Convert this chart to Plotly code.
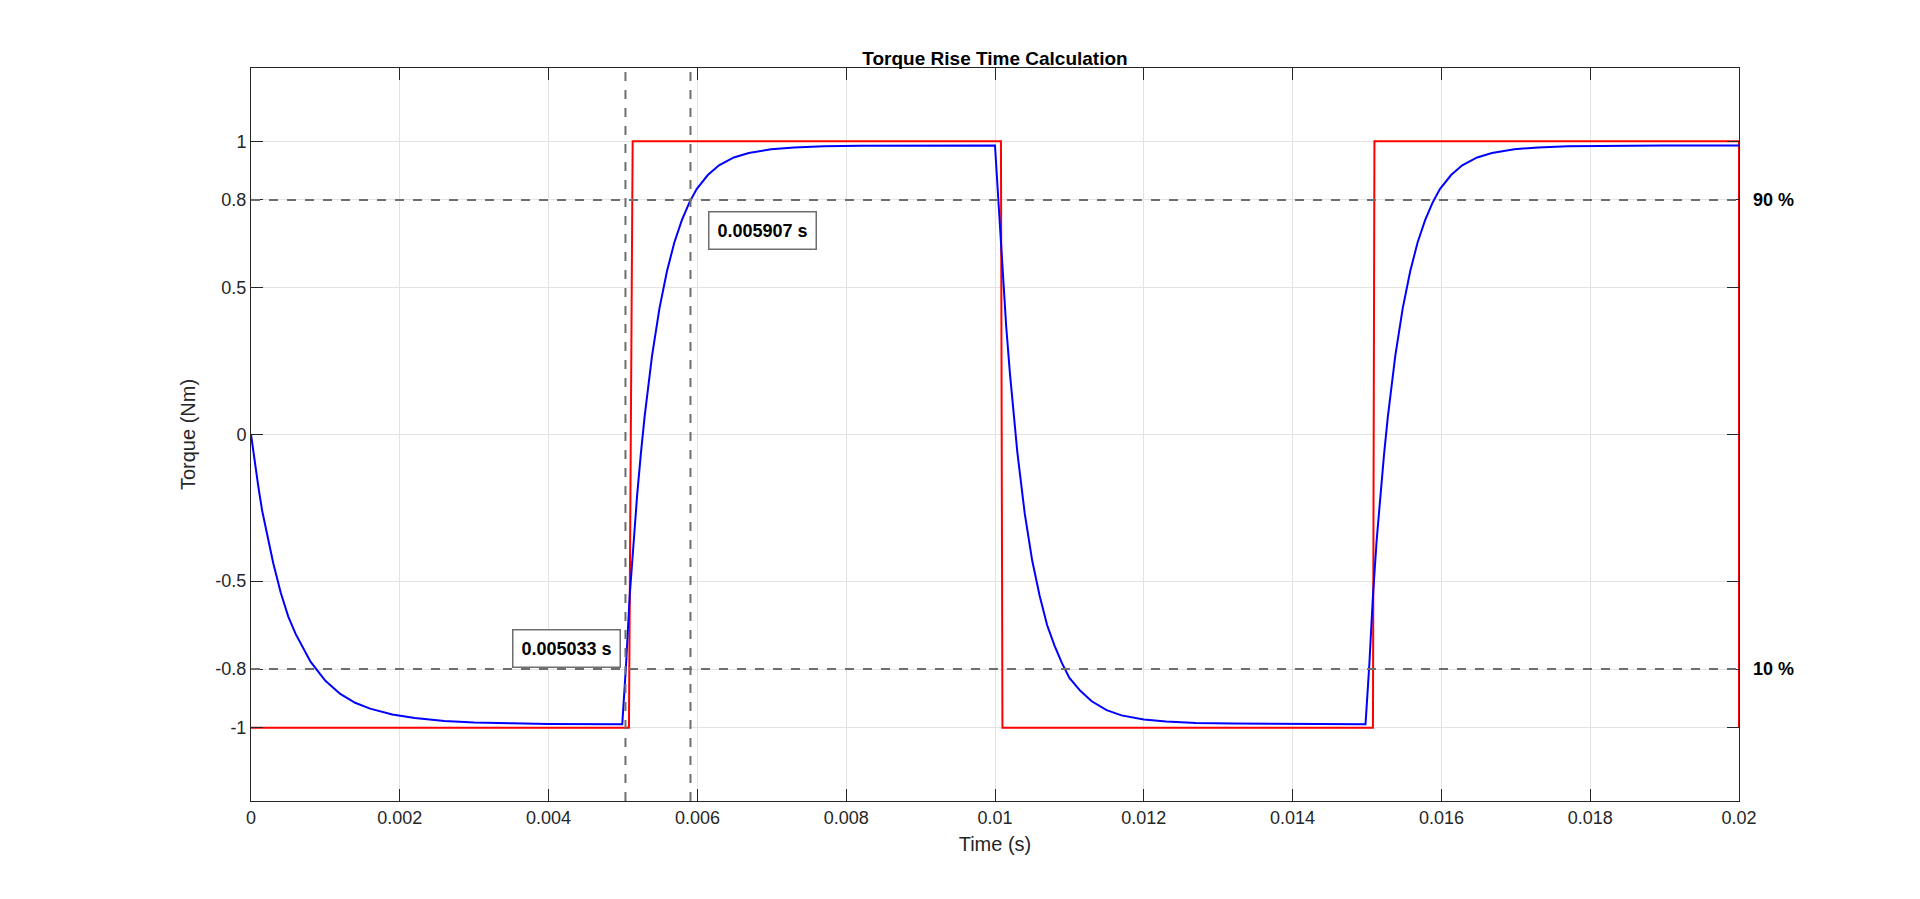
import plotly.graph_objects as go

# reference square wave (Nm)
ref_t = [0, 0.00508, 0.00513, 0.01008, 0.0101, 0.01508, 0.0151, 0.02, 0.02]
ref_y = [-1, -1, 1, 1, -1, -1, 1, 1, -1]

trq_t = [0, 0.00005, 0.0001, 0.00015, 0.0002, 0.0003, 0.0004, 0.0005, 0.0006, 0.0007,
         0.0008, 0.001, 0.0012, 0.0014, 0.0016, 0.0019, 0.0022, 0.0026, 0.003, 0.0035,
         0.004, 0.00499,
         0.00504, 0.00509, 0.00514, 0.00519, 0.00524, 0.00529, 0.00539, 0.00549,
         0.00559, 0.00569, 0.00579, 0.00589, 0.00599, 0.00614, 0.00629, 0.00649,
         0.00669, 0.00699, 0.0073, 0.0077, 0.0082, 0.009, 0.01,
         0.01005, 0.0101, 0.01015, 0.0102, 0.01025, 0.0103, 0.0104, 0.0105, 0.0106,
         0.0107, 0.0108, 0.0109, 0.011, 0.01115, 0.0113, 0.0115, 0.0117, 0.012,
         0.0123, 0.0127, 0.0132, 0.014, 0.01498,
         0.01503, 0.01508, 0.01513, 0.01518, 0.01523, 0.01528, 0.01538, 0.01548,
         0.01558, 0.01568, 0.01578, 0.01588, 0.01598, 0.01613, 0.01628, 0.01648,
         0.01668, 0.01698, 0.0173, 0.0177, 0.0182, 0.019, 0.02]
trq_y = [0, -0.095, -0.18, -0.26, -0.32, -0.44, -0.54, -0.62, -0.68, -0.73,
         -0.775, -0.84, -0.885, -0.915, -0.935, -0.955, -0.967, -0.977, -0.982, -0.985,
         -0.987, -0.988,
         -0.79, -0.55, -0.36, -0.207, -0.065, 0.06, 0.268, 0.43,
         0.556, 0.655, 0.73, 0.79, 0.837, 0.885, 0.918, 0.945,
         0.96, 0.973, 0.979, 0.983, 0.985, 0.986, 0.986,
         0.78, 0.56, 0.37, 0.21, 0.07, -0.06, -0.27, -0.43, -0.55,
         -0.65, -0.72, -0.78, -0.83, -0.875, -0.91, -0.94, -0.958, -0.972,
         -0.979, -0.984, -0.986, -0.987, -0.988,
         -0.79, -0.55, -0.36, -0.207, -0.065, 0.06, 0.268, 0.43,
         0.556, 0.655, 0.73, 0.79, 0.837, 0.885, 0.918, 0.945,
         0.96, 0.973, 0.979, 0.983, 0.985, 0.986, 0.986]

t10, t90 = 0.005033, 0.005907
lvl10, lvl90 = -0.8, 0.8
x_ticks = [0, 0.002, 0.004, 0.006, 0.008, 0.01, 0.012, 0.014, 0.016, 0.018, 0.02]
y_ticks = [-1, -0.8, -0.5, 0, 0.5, 0.8, 1]

fig = go.Figure()
fig.add_trace(go.Scatter(x=ref_t, y=ref_y, mode="lines",
                         line=dict(color="#ff0000", width=2), showlegend=False))
fig.add_trace(go.Scatter(x=trq_t, y=trq_y, mode="lines",
                         line=dict(color="#0000ff", width=2), showlegend=False))

dash = dict(color="#6e6e6e", width=2, dash="dash")
for lv in (lvl10, lvl90):
    fig.add_shape(type="line", xref="paper", x0=0, x1=1, y0=lv, y1=lv, line=dash)
for tt in (t10, t90):
    fig.add_shape(type="line", yref="paper", y0=0, y1=1, x0=tt, x1=tt, line=dash)

box = dict(font=dict(size=18, color="black", family="Liberation Sans"),
           bordercolor="#6e6e6e", borderwidth=1.5, borderpad=8, bgcolor="white",
           showarrow=False)
fig.add_annotation(x=t10 - 0.00006, y=-0.73, text="<b>%.6f s</b>" % t10,
                   xanchor="right", **box)
fig.add_annotation(x=t90 + 0.00024, y=0.695, text="<b>%.6f s</b>" % t90,
                   xanchor="left", **box)
for lv, txt in ((lvl90, "90 %"), (lvl10, "10 %")):
    fig.add_annotation(xref="paper", x=1.008, y=lv, text="<b>%s</b>" % txt,
                       xanchor="left", showarrow=False,
                       font=dict(size=18, color="black", family="Liberation Sans"))

axis = dict(showgrid=True, gridcolor="#e3e3e3", showline=True, linecolor="#262626",
            mirror="ticks", ticks="inside", ticklen=12, tickcolor="#262626",
            zeroline=False, tickfont=dict(size=18, color="#262626"),
            title_font=dict(size=20, color="#262626"))
fig.update_xaxes(range=[0, 0.02], tickvals=x_ticks,
                 ticktext=["0" if v == 0 else ("%g" % v) for v in x_ticks],
                 title_text="Time (s)", title_standoff=10, **axis)
fig.update_yaxes(range=[-1.25, 1.25], tickvals=y_ticks,
                 ticktext=["%g" % v for v in y_ticks],
                 title_text="Torque (Nm)", title_standoff=14, **axis)
fig.update_layout(
    width=1920, height=899, plot_bgcolor="white", paper_bgcolor="white",
    font=dict(family="Liberation Sans", color="#262626"),
    margin=dict(l=243, r=189, t=60, b=106),
    title=dict(text="<b>Torque Rise Time Calculation</b>", x=0.5, xanchor="center",
               xref="paper", y=1 - 44 / 899, font=dict(size=19, color="black")),
)
fig.write_html("out.html")
